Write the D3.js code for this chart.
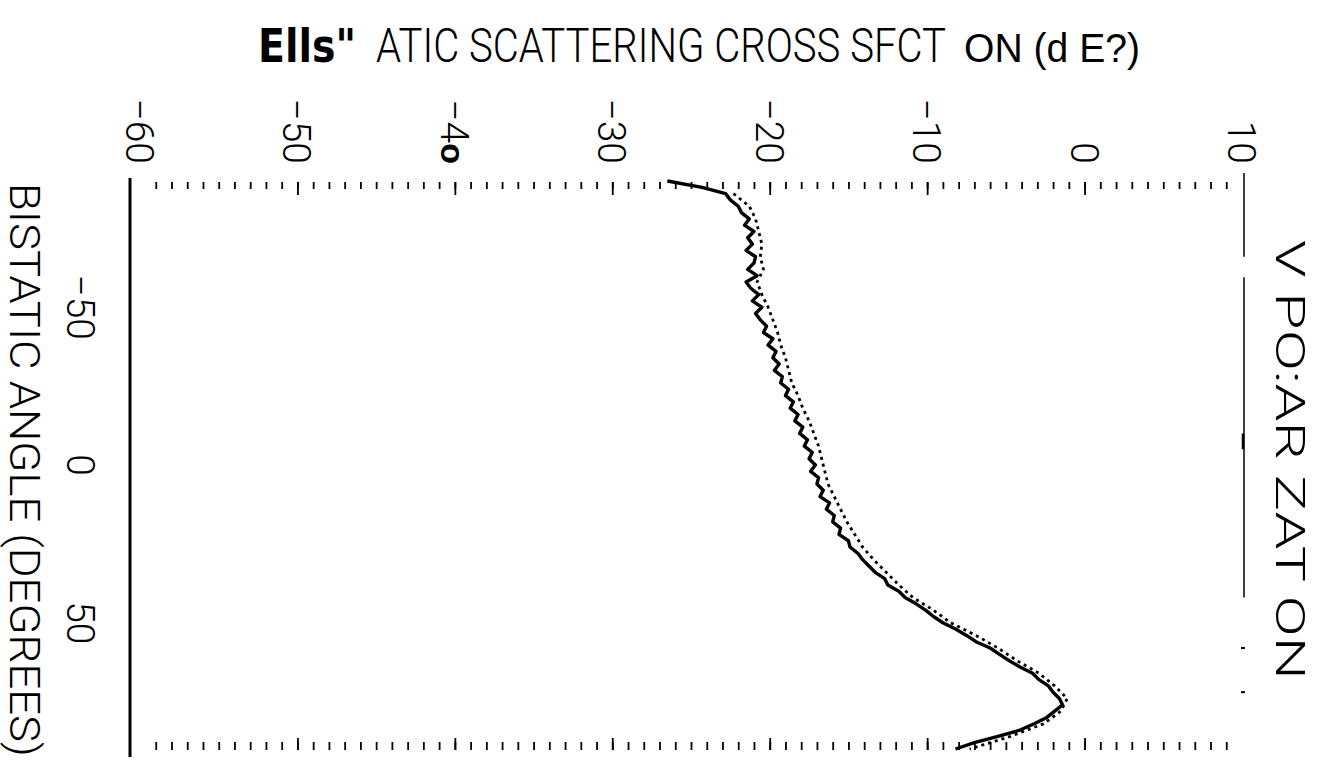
<!DOCTYPE html>
<html>
<head>
<meta charset="utf-8">
<script src="https://cdn.jsdelivr.net/npm/d3@7"></script>
<style>
  html, body { margin: 0; padding: 0; background: #fff; }
  svg { display: block; }
  .thin { font-family: Roboto, "DejaVu Sans Condensed", sans-serif; font-weight: 300; }
</style>
</head>
<body>
<div id="chart"></div>
<script>
// bistatic angle (degrees), sampled every 2 deg
const angles = [-90,-88,-86,-84,-82,-80,-78,-76,-74,-72,-70,-68,-66,-64,-62,-60,-58,-56,-54,-52,
  -50,-48,-46,-44,-42,-40,-38,-36,-34,-32,-30,-28,-26,-24,-22,-20,-18,-16,-14,-12,
  -10,-8,-6,-4,-2,0,2,4,6,8,10,12,14,16,18,20,22,24,26,28,
  30,32,34,36,38,40,42,44,46,48,50,52,54,56,58,60,62,64,66,68,
  70,72,74,76,78,80,82,84,86,88,90];

// measured cross section (dB), main trace
const measuredDb = [-26.5,-24.3,-22.8,-22.5,-22.0,-21.8,-21.3,-21.6,-21.0,-21.4,-21.1,-21.5,-20.9,-21.0,-21.4,-20.8,-21.5,-21.2,-20.7,-21.1,
  -20.5,-20.9,-20.6,-20.2,-20.4,-19.8,-20.1,-19.6,-19.8,-19.4,-19.7,-19.2,-19.3,-18.8,-19.0,-18.5,-18.7,-18.2,-18.4,-17.9,
  -18.1,-17.6,-17.8,-17.3,-17.5,-17.1,-17.4,-16.9,-17.0,-16.6,-16.8,-16.2,-16.4,-15.9,-16.0,-15.5,-15.6,-15.0,-14.9,-14.4,
  -14.1,-13.7,-13.3,-12.7,-12.5,-11.8,-11.4,-10.7,-10.1,-9.6,-9.0,-8.2,-7.5,-6.9,-6.0,-5.4,-4.8,-4.1,-3.3,-2.9,
  -2.3,-2.0,-1.6,-1.4,-1.9,-2.4,-3.2,-4.1,-5.5,-7.0,-8.2];

// second (dotted) trace, every 4 deg
const angles2 = [-86,-82,-78,-74,-70,-66,-62,-58,-54,-50,-46,-42,-38,-34,-30,-26,-22,-18,-14,-10,
  -6,-2,2,6,10,14,18,22,26,30,34,38,42,46,50,54,58,62,66,70,74,78,82,86,90];
const dottedDb = [-22.3,-21.3,-20.9,-20.7,-20.5,-20.6,-20.4,-20.8,-20.5,-20.1,-19.8,-19.5,-19.3,-19.0,-18.8,-18.6,-18.2,-17.9,-17.5,-17.2,
  -16.9,-16.7,-16.5,-16.3,-15.9,-15.5,-15.1,-14.6,-14.1,-13.4,-12.6,-11.8,-10.9,-9.6,-8.5,-6.9,-5.5,-4.3,-2.9,-1.9,-1.1,-1.5,-2.6,-4.7,-7.3];

const dbTicks = [-60,-50,-40,-30,-20,-10,0,10];
const angleTicks = [-50,0,50];

const W = 1328, H = 761;
const svg = d3.select('#chart').append('svg').attr('width', W).attr('height', H);

// the page is turned: dB runs across, bistatic angle runs down
const x = d3.scaleLinear().domain([-60, 10]).range([140, 1242]);
const y = d3.scaleLinear().domain([-90, 90]).range([181, 749]);

// squeeze a text to a width with a transform, so its box is honest
const fitText = (sel, left, base, width, rot) => {
  const w = sel.node().getComputedTextLength();
  sel.attr('transform', `translate(${left},${base})${rot ? ' rotate(90)' : ''} scale(${width / w},1)`);
};

// title
fitText(svg.append('text')
  .attr('font-family', '"Liberation Sans Narrow", "DejaVu Sans Condensed", sans-serif')
  .attr('font-weight', 'bold').attr('font-size', 46)
  .text('Ells"'), 258, 62, 98);
fitText(svg.append('text').attr('class', 'thin').attr('font-size', 48)
  .text('ATIC SCATTERING CROSS SFCT'), 376, 62, 570);
fitText(svg.append('text')
  .attr('font-family', '"Liberation Sans", Arial, sans-serif').attr('font-size', 40)
  .text('ON (d E?)'), 964, 62, 176);

// top tick row (1 dB minor, 10 dB major)
const topAxis = svg.append('g').attr('transform', 'translate(0,182)');
topAxis.call(d3.axisBottom(x).tickValues(d3.range(-59, 10, 1)).tickSize(7).tickFormat(''));
topAxis.call(g => g.select('.domain').remove());
const topMajor = svg.append('g').attr('transform', 'translate(0,182)');
topMajor.call(d3.axisBottom(x).tickValues([-50,-40,-30,-20,-10,0]).tickSize(13).tickFormat(''));
topMajor.call(g => g.select('.domain').remove());

// bottom tick row
const botAxis = svg.append('g').attr('transform', 'translate(0,750)');
botAxis.call(d3.axisTop(x).tickValues(d3.range(-59, 10, 1)).tickSize(8).tickFormat(''));
botAxis.call(g => g.select('.domain').remove());
const botMajor = svg.append('g').attr('transform', 'translate(0,750)');
botMajor.call(d3.axisTop(x).tickValues([-50,-40,-30,-20,-10,0]).tickSize(12).tickFormat(''));
botMajor.call(g => g.select('.domain').remove());
svg.selectAll('.tick line').attr('stroke', '#000').attr('stroke-width', 1.8);

// dB labels, rotated
svg.selectAll('.dbLabel').data(dbTicks).enter().append('text')
  .attr('class', 'dbLabel thin')
  .attr('transform', d => `translate(${x(d)},164) rotate(90)`)
  .attr('text-anchor', 'end').attr('dy', '0.36em')
  .attr('font-size', 39)
  .each(function(d) {
    const t = d3.select(this);
    if (d === -40) {
      t.append('tspan').text('\u22124');
      t.append('tspan').attr('font-family', '"Liberation Sans", Arial, sans-serif')
        .attr('font-weight', 'bold').attr('font-size', 34).text('o');
    } else {
      t.text(d < 0 ? '\u2212' + Math.abs(d) : String(d));
    }
  });

// frame
svg.append('line').attr('x1', 130).attr('x2', 130).attr('y1', 178).attr('y2', 757)
  .attr('stroke', '#000').attr('stroke-width', 3);
[[-90, -66], [-57, 42]].forEach(s => {
  svg.append('line').attr('x1', 1244).attr('x2', 1244).attr('y1', y(s[0]) - 8).attr('y2', y(s[1]))
    .attr('stroke', '#000').attr('stroke-width', 1.5);
});
svg.append('line').attr('x1', 1243).attr('x2', 1243).attr('y1', y(-10)).attr('y2', y(-5))
  .attr('stroke', '#000').attr('stroke-width', 2.5);
[58, 72].forEach(a => {
  svg.append('line').attr('x1', 1241).attr('x2', 1245).attr('y1', y(a)).attr('y2', y(a))
    .attr('stroke', '#000').attr('stroke-width', 2);
});

// angle labels, rotated
svg.selectAll('.angLabel').data(angleTicks).enter().append('text')
  .attr('class', 'angLabel thin')
  .attr('transform', d => `translate(81,${y(d)}) rotate(90)`)
  .attr('text-anchor', 'middle').attr('dy', '0.36em')
  .attr('font-size', 39)
  .text(d => d < 0 ? '\u2212' + Math.abs(d) : String(d));

fitText(svg.append('text').attr('class', 'thin')
  .attr('dy', '0.36em').attr('font-size', 42)
  .text('BISTATIC ANGLE (DEGREES)'), 25, 183, 574, true);

fitText(svg.append('text').attr('class', 'thin')
  .attr('dy', '0.36em').attr('font-size', 40)
  .text('V  PO:AR ZAT ON'), 1290, 240, 440, true);

// traces
const line = d3.line().x(d => x(d[1])).y(d => y(d[0]));
svg.append('path')
  .datum(angles2.map((a, i) => [a, dottedDb[i]]))
  .attr('d', line).attr('fill', 'none').attr('stroke', '#000')
  .attr('stroke-width', 2.8).attr('stroke-dasharray', '3 4');
svg.append('path')
  .datum(angles.map((a, i) => [a, measuredDb[i]]))
  .attr('d', line).attr('fill', 'none').attr('stroke', '#000')
  .attr('stroke-width', 3.4).attr('stroke-linejoin', 'round');
</script>
</body>
</html>
